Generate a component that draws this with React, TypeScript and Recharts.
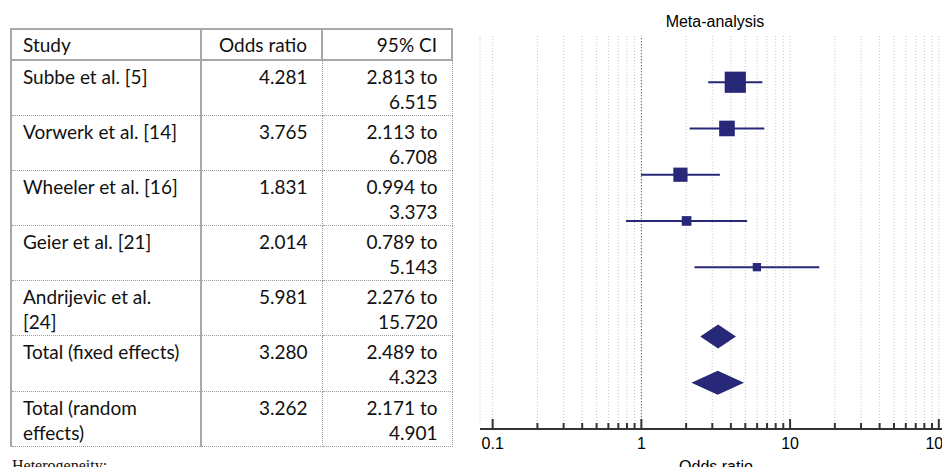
import React from "react";
import { ComposedChart, Scatter, XAxis, YAxis, CartesianGrid, ReferenceLine, Label } from "recharts";

const studies = ["Subbe et al. [5]", "Vorwerk et al. [14]", "Wheeler et al. [16]", "Geier et al. [21]", "Andrijevic et al. [24]"];
const oddsRatios = [4.281, 3.765, 1.831, 2.014, 5.981];
const ciLow = [2.813, 2.113, 0.994, 0.789, 2.276];
const ciHigh = [6.515, 6.708, 3.373, 5.143, 15.72];
// relative study weights (%)
const weights = [42.5, 23.1, 19.1, 8.8, 6.5];

const totals = ["Total (fixed effects)", "Total (random effects)"];
const totalOR = [3.28, 3.262];
const totalLow = [2.489, 2.171];
const totalHigh = [4.323, 4.901];

const xTicks = [0.1, 0.2, 0.3, 0.4, 0.5, 0.6, 0.7, 0.8, 0.9, 1, 2, 3, 4, 5, 6, 7, 8, 9, 10, 20, 30, 40, 50, 60, 70, 80, 90, 100];
const tickLabels = [0.1, 1, 10, 100];

const NAVY = "#282878";
const SANS = "'Liberation Sans', Arial, sans-serif";

// y position of each row in the plot (totals sit after a half-row gap)
const studyRows = studies.map((_, i) => i + 1);
const totalRows = totals.map((_, i) => 6.5 + i);

const squares = studies.map((s, i) => ({ x: oddsRatios[i], y: studyRows[i], w: weights[i] }));

const DIAMOND_H = 0.26;
const diamonds = totals.map((_, i) => [
  { x: totalLow[i], y: totalRows[i] },
  { x: totalOR[i], y: totalRows[i] - DIAMOND_H },
  { x: totalHigh[i], y: totalRows[i] },
  { x: totalOR[i], y: totalRows[i] + DIAMOND_H },
]);

const tableRows = [
  ...studies.map((s, i) => ({ name: s, or: oddsRatios[i], lo: ciLow[i], hi: ciHigh[i] })),
  ...totals.map((s, i) => ({ name: s, or: totalOR[i], lo: totalLow[i], hi: totalHigh[i] })),
];

function Square(props: any) {
  const { cx, cy, payload } = props;
  const side = 3.25 * Math.sqrt(payload.w);
  return <rect x={cx - side / 2} y={cy - side / 2} width={side} height={side} fill={NAVY} />;
}

function Diamond(props: any) {
  const pts = (props.points || []).map((p: any) => `${p.x},${p.y}`).join(" ");
  return <polygon points={pts} fill={NAVY} stroke="none" />;
}

function LogTick(props: any) {
  const { x, y, payload } = props;
  const v = payload.value;
  const major = tickLabels.includes(v);
  return (
    <g>
      <line x1={x} x2={x} y1={y} y2={y - (major ? 10 : 6)} stroke="#333" strokeWidth={2} />
      {major && (
        <text x={x} y={y + 20} textAnchor="middle" fontSize={16} fontFamily={SANS} fill="#000">
          {v}
        </text>
      )}
    </g>
  );
}

const solid = "2px solid #a8a8a8";
const dotted = "1px dotted #9a9a9a";

const cellBase: React.CSSProperties = {
  verticalAlign: "top",
  padding: "3px 14px 0 11px",
  fontWeight: "normal",
  overflow: "hidden",
};

export default function App() {
  return (
    <div style={{ position: "relative", width: 950, height: 475, margin: -8, overflow: "hidden", background: "#fff" }}>
      <table
        style={{
          position: "absolute",
          left: 10,
          top: 28,
          width: 441,
          borderCollapse: "collapse",
          tableLayout: "fixed",
          fontFamily: "Lato, sans-serif",
          fontSize: 19,
          lineHeight: "25px",
          color: "#111",
        }}
      >
        <colgroup>
          <col style={{ width: 190 }} />
          <col style={{ width: 121 }} />
          <col style={{ width: 130 }} />
        </colgroup>
        <thead>
          <tr style={{ height: 31 }}>
            <th style={{ ...cellBase, padding: "2px 12px 0 11px", textAlign: "left", border: solid }}>Study</th>
            <th style={{ ...cellBase, padding: "2px 14px 0 11px", textAlign: "right", border: solid }}>Odds ratio</th>
            <th style={{ ...cellBase, padding: "2px 14px 0 11px", textAlign: "right", border: solid }}>95% CI</th>
          </tr>
        </thead>
        <tbody>
          {tableRows.map((r) => (
            <tr key={r.name} style={{ height: 55.2 }}>
              <td
                style={{
                  ...cellBase,
                  paddingRight: 12,
                  textAlign: "left",
                  borderLeft: solid,
                  borderRight: solid,
                  borderBottom: dotted,
                }}
              >
                {r.name}
              </td>
              <td style={{ ...cellBase, textAlign: "right", borderRight: dotted, borderBottom: dotted }}>{r.or.toFixed(3)}</td>
              <td style={{ ...cellBase, textAlign: "right", borderRight: dotted, borderBottom: dotted }}>
                {r.lo.toFixed(3)} to
                <br />
                {r.hi.toFixed(3)}
              </td>
            </tr>
          ))}
        </tbody>
      </table>

      <div
        style={{
          position: "absolute",
          left: 12,
          top: 458,
          fontFamily: "'Liberation Serif', 'Times New Roman', serif",
          fontSize: 16,
          lineHeight: "16px",
          color: "#111",
          whiteSpace: "nowrap",
        }}
      >
        Heterogeneity:
      </div>

      <div
        style={{
          position: "absolute",
          left: 565,
          top: 14,
          width: 300,
          textAlign: "center",
          fontFamily: SANS,
          fontSize: 16,
          lineHeight: "16px",
          color: "#000",
        }}
      >
        Meta-analysis
      </div>

      <div style={{ position: "absolute", left: 470, top: 0 }}>
        <ComposedChart width={482} height={475} margin={{ top: 36, right: 0, bottom: 0, left: 10 }}>
          <CartesianGrid horizontal={false} vertical stroke="#c8c8c8" strokeDasharray="1 2" />
          <XAxis
            type="number"
            dataKey="x"
            scale="log"
            domain={[0.0822, 122.7]}
            allowDataOverflow
            ticks={xTicks}
            interval={0}
            tick={<LogTick />}
            tickLine={false}
            tickSize={0}
            tickMargin={0}
            axisLine={{ stroke: "#333", strokeWidth: 2 }}
            height={46}
          >
            <Label value="Odds ratio" position="insideBottom" offset={3} fill="#000" fontSize={16} fontFamily={SANS} />
          </XAxis>
          <YAxis
            type="number"
            dataKey="y"
            domain={[0, 8.5]}
            reversed
            allowDataOverflow
            width={0}
            tick={false}
            tickLine={false}
            axisLine={{ stroke: "#333", strokeWidth: 2 }}
          />
          <ReferenceLine x={1} stroke="#5a5a80" strokeDasharray="1 2" />
          {studies.map((s, i) => (
            <ReferenceLine
              key={s}
              segment={[
                { x: ciLow[i], y: studyRows[i] },
                { x: ciHigh[i], y: studyRows[i] },
              ]}
              stroke={NAVY}
              strokeWidth={2}
            />
          ))}
          <Scatter data={squares} shape={<Square />} isAnimationActive={false} />
          {diamonds.map((d, i) => (
            <Scatter key={totals[i]} data={d} shape={() => <g />} line={Diamond} isAnimationActive={false} />
          ))}
        </ComposedChart>
      </div>
    </div>
  );
}
